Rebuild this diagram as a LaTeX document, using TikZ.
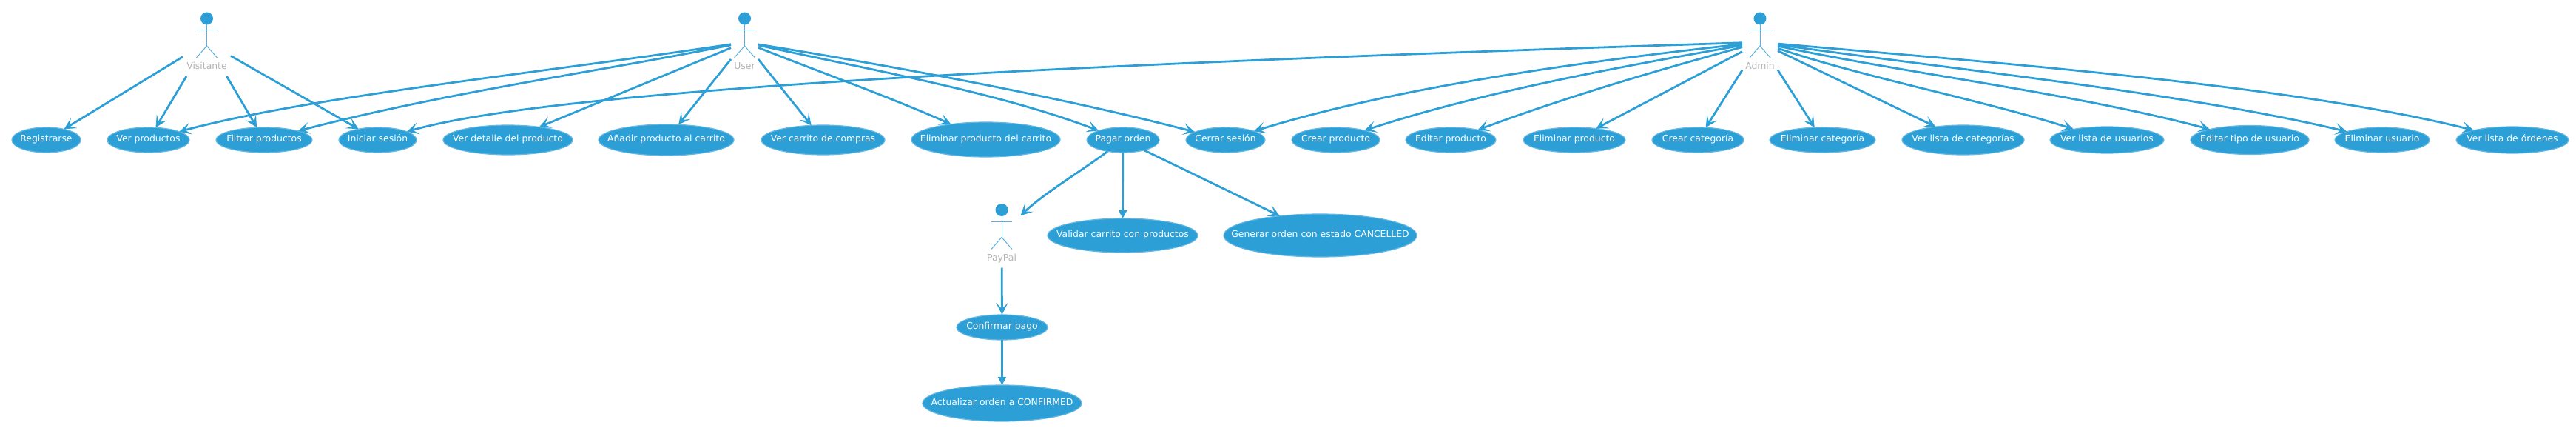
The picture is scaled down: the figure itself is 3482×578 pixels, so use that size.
\documentclass[tikz,border=0pt]{standalone}
\usepackage{fontspec}
\setmainfont{DejaVu Sans}
\usetikzlibrary{arrows.meta,shapes.geometric}
\definecolor{ucblue}{HTML}{2C9FD7}
\definecolor{ucedge}{HTML}{66B8E2}
\definecolor{actline}{HTML}{5CB0DE}
\definecolor{actgrey}{HTML}{B4B4B4}
\tikzset{
  usecase/.style={ellipse,fill=ucblue,draw=ucedge,line width=1.2pt,inner sep=0pt,outer sep=0pt},
  uctext/.style={text=white,font=\fontsize{12.4}{15}\selectfont,inner sep=0pt,text height=.75em,text depth=.2em},
  actorbox/.style={rectangle,inner sep=0pt,outer sep=0pt,minimum height=92pt},
  actortext/.style={text=actgrey,font=\fontsize{12.4}{15}\selectfont,inner sep=0pt,text height=.75em,text depth=.2em},
  conn/.style={draw=ucblue,line width=2.8pt,-{Stealth[length=16pt,width=16pt,inset=8pt]}},
  thinconn/.style={draw=ucblue,line width=2.4pt,-{Stealth[length=11pt,width=11pt,inset=0pt]}},
}
\newcommand{\ucnode}[6]{\node[usecase,minimum width=#4pt,minimum height=#5pt,label={[uctext,name=#1t]center:#6}] (#1) at (#2,#3) {};}
\newcommand{\actor}[5]{%
  \node[actorbox,minimum width=#4pt] (#1) at (#2,#3+46) {};
  \fill[ucblue] (#2,#3+14) circle[radius=8.5];
  \draw[actline,line width=1pt] (#2-14,#3+30) -- (#2+14,#3+30);
  \draw[actline,line width=1pt] (#2,#3+22) -- (#2,#3+51);
  \draw[actline,line width=1pt] (#2-14,#3+67) -- (#2,#3+51) -- (#2+14,#3+67);
  \node[actortext] (#1t) at (#2,#3+80) {#5};
}
\begin{document}
\begin{tikzpicture}[x=1pt,y=-1pt]
\useasboundingbox (0,0) rectangle (3482,578);
\actor{vis}{279.5}{11}{65}{Visitante}
\actor{usr}{1006.5}{11}{37}{User}
\actor{adm}{2379}{11}{48}{Admin}
\actor{pay}{1354}{269.5}{51}{PayPal}
\ucnode{reg}{62.5}{189}{93}{34}{Registrarse}
\ucnode{vp}{200.5}{189}{111}{34}{Ver productos}
\ucnode{fp}{357}{189}{130}{34}{Filtrar productos}
\ucnode{is}{510.5}{189}{105}{34}{Iniciar sesión}
\ucnode{vd}{686.5}{189}{175}{40}{Ver detalle del producto}
\ucnode{an}{900.5}{189}{183}{42}{Añadir producto al carrito}
\ucnode{vc}{1112.5}{189}{167}{40}{Ver carrito de compras}
\ucnode{ec}{1332.5}{188.5}{201}{47}{Eliminar producto del carrito}
\ucnode{po}{1518}{189}{98}{34}{Pagar orden}
\ucnode{cs}{1656.5}{189}{107}{34}{Cerrar sesión}
\ucnode{cp}{1805.5}{189}{119}{34}{Crear producto}
\ucnode{ep}{1961}{189}{122}{34}{Editar producto}
\ucnode{elp}{2128}{189}{138}{34}{Eliminar producto}
\ucnode{cc}{2295}{189}{124}{34}{Crear categoría}
\ucnode{elc}{2463.5}{189}{143}{34}{Eliminar categoría}
\ucnode{vlc}{2653.5}{189}{165}{40}{Ver lista de categorías}
\ucnode{vlu}{2848}{189}{154}{36}{Ver lista de usuarios}
\ucnode{et}{3041}{189}{160}{39}{Editar tipo de usuario}
\ucnode{eu}{3220}{189}{128}{34}{Eliminar usuario}
\ucnode{vlo}{3396}{189}{152}{36}{Ver lista de órdenes}
\ucnode{val}{1517.5}{318}{203}{46}{Validar carrito con productos}
\ucnode{gen}{1784.5}{318}{261}{58}{Generar orden con estado CANCELLED}
\ucnode{conf}{1354.5}{442}{123}{34}{Confirmar pago}
\ucnode{act}{1354.5}{544.5}{215}{49}{Actualizar orden a CONFIRMED}
% Visitante
\draw[conn] (vis) -- (reg);
\draw[conn] (vis) -- (vp);
\draw[conn] (vis) -- (fp);
\draw[conn] (vis) -- (is);
% User
\draw[conn] (usr) .. controls (720,100) and (420,130) .. (vp);
\draw[conn] (usr) .. controls (820,95) and (600,125) .. (fp);
\draw[conn] (usr) -- (vd);
\draw[conn] (usr) -- (an);
\draw[conn] (usr) -- (vc);
\draw[conn] (usr) .. controls (1110,98) and (1200,130) .. (ec);
\draw[conn] (usr) .. controls (1180,95) and (1350,125) .. (po);
\draw[conn] (usr) .. controls (1200,88) and (1430,130) .. (cs);
% Admin
\draw[conn] (adm) .. controls (1500,85) and (760,118) .. (is);
\draw[conn] (adm) .. controls (2120,85) and (1880,120) .. (cs);
\draw[conn] (adm) .. controls (2190,90) and (2000,125) .. (cp);
\draw[conn] (adm) .. controls (2240,95) and (2120,130) .. (ep);
\draw[conn] (adm) -- (elp);
\draw[conn] (adm) -- (cc);
\draw[conn] (adm) -- (elc);
\draw[conn] (adm) -- (vlc);
\draw[conn] (adm) .. controls (2520,105) and (2680,135) .. (vlu);
\draw[conn] (adm) .. controls (2580,100) and (2800,125) .. (et);
\draw[conn] (adm) .. controls (2650,95) and (2950,125) .. (eu);
\draw[conn] (adm) .. controls (2700,85) and (3100,115) .. (vlo);
% Pagar orden
\draw[conn] (po) .. controls (1460,232) and (1410,262) .. (pay);
\draw[thinconn] (po) -- (val);
\draw[conn] (po) -- (gen);
% PayPal
\draw[conn] (pay) -- (conf);
\draw[thinconn] (conf) -- (act);
\end{tikzpicture}
\end{document}
